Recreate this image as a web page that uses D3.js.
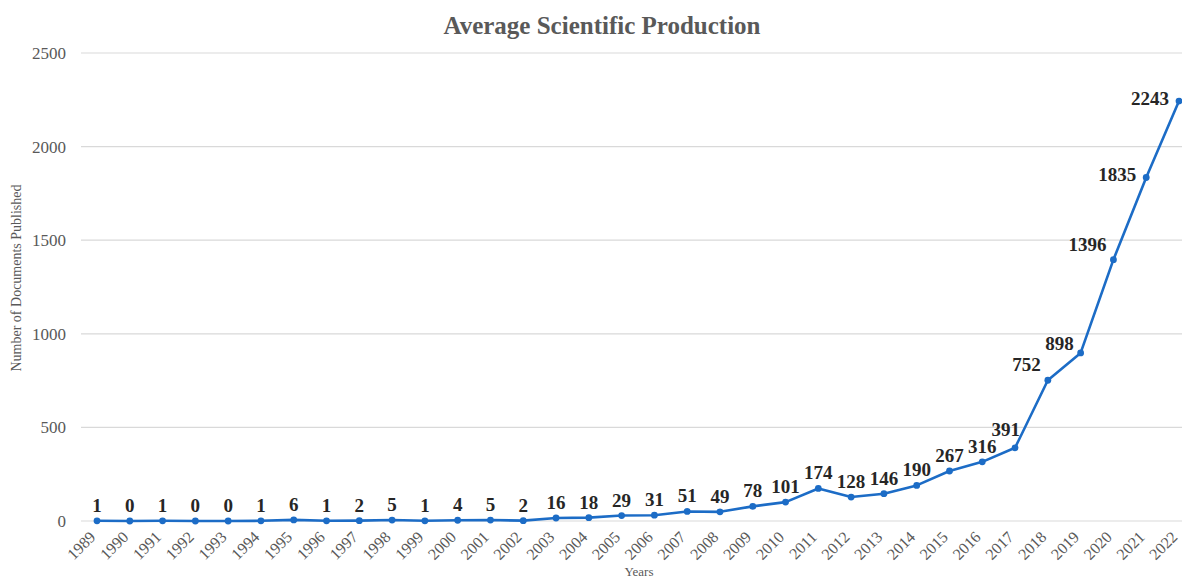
<!DOCTYPE html>
<html><head><meta charset="utf-8">
<script src="https://cdn.jsdelivr.net/npm/d3@7"></script>
<style>body{margin:0;background:#fff}svg{display:block}text{font-family:"Liberation Serif","Times New Roman",serif}</style>
</head><body><svg id="c" width="1182" height="580"></svg>
<script>
const years = ["1989","1990","1991","1992","1993","1994","1995","1996","1997","1998","1999","2000","2001","2002","2003","2004","2005","2006","2007","2008","2009","2010","2011","2012","2013","2014","2015","2016","2017","2018","2019","2020","2021","2022"];
const documents = [1,0,1,0,0,1,6,1,2,5,1,4,5,2,16,18,29,31,51,49,78,101,174,128,146,190,267,316,391,752,898,1396,1835,2243];
const yTicks = [0,500,1000,1500,2000,2500];

const svg = d3.select("#c");
const W = 1182, H = 580;
const x = d3.scalePoint().domain(years).range([97, 1179]);
const y = d3.scaleLinear().domain([0, 2500]).range([521, 53]);
const blue = "#1c6cc6", grey = "#595959";

// title
svg.append("text").attr("x", 602).attr("y", 34).attr("text-anchor","middle")
  .attr("font-size", 25).attr("font-weight","bold").attr("fill", grey).text("Average Scientific Production");

// grid + y axis
const yAxis = d3.axisLeft(y).tickValues(yTicks).tickSize(0).tickPadding(0).tickFormat(d3.format("d"));
const gy = svg.append("g").attr("transform","translate(66,0)").call(yAxis);
gy.select(".domain").remove();
gy.selectAll("text").attr("font-size", 17).attr("fill", grey).attr("font-family","Liberation Serif");
svg.append("g").selectAll("line").data(yTicks).join("line")
  .attr("x1", 81).attr("x2", W).attr("y1", d => y(d)).attr("y2", d => y(d))
  .attr("stroke", "#d9d9d9").attr("stroke-width", 1.2);

// x axis
const xAxis = d3.axisBottom(x).tickSize(0).tickPadding(0);
const gx = svg.append("g").attr("transform","translate(0,521)").call(xAxis);
gx.select(".domain").remove();
gx.selectAll("text").attr("font-size", 16).attr("fill", grey).attr("font-family","Liberation Serif")
  .attr("text-anchor","end").attr("dy", null)
  .attr("transform","translate(-1,17) rotate(-45)");

// axis titles
svg.append("text").attr("transform","translate(21,278) rotate(-90)").attr("text-anchor","middle")
  .attr("font-size", 14).attr("fill", grey).text("Number of Documents Published");
svg.append("text").attr("x", 639).attr("y", 576).attr("text-anchor","middle")
  .attr("font-size", 13).attr("fill", grey).text("Years");

// line
const data = years.map((yr, i) => ({yr, v: documents[i], i}));
svg.append("path").datum(data)
  .attr("d", d3.line().x(d => x(d.yr)).y(d => y(d.v)))
  .attr("fill","none").attr("stroke", blue).attr("stroke-width", 2.6).attr("stroke-linejoin","round");
svg.append("g").selectAll("circle").data(data).join("circle")
  .attr("cx", d => x(d.yr)).attr("cy", d => y(d.v)).attr("r", 3.4).attr("fill", blue);

// labels
function steep(a, b) {
  if (a < 0 || b >= data.length) return false;
  return Math.abs(y(data[b].v) - y(data[a].v)) > 1.5 * (x(data[b].yr) - x(data[a].yr));
}
const n = data.length;
svg.append("g").selectAll("text").data(data).join("text")
  .attr("font-size", 19).attr("font-weight","bold").attr("fill", "#262626")
  .each(function(d) {
    const px = x(d.yr), py = y(d.v);
    const nextSteep = steep(d.i, d.i + 1), prevSteep = steep(d.i - 1, d.i);
    const sel = d3.select(this);
    if (d.i >= n - 2) {
      sel.attr("text-anchor","end").attr("x", px - 10).attr("y", py + 4);
    } else if (nextSteep && !prevSteep && d.v < 500) {
      sel.attr("text-anchor","end").attr("x", px + 5).attr("y", py - 12);
    } else if (nextSteep || prevSteep) {
      sel.attr("text-anchor","end").attr("x", px - 7).attr("y", py - (nextSteep && !prevSteep ? 3 : 9));
    } else {
      sel.attr("text-anchor","middle").attr("x", px).attr("y", py - 9);
    }
  })
  .text(d => d.v);
</script>
</body></html>
